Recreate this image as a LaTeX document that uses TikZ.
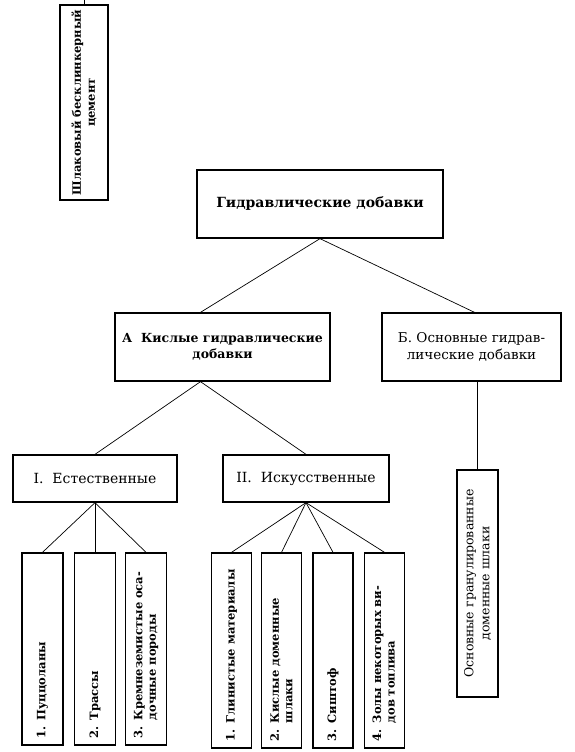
\documentclass[tikz,border=0pt]{standalone}
\usepackage{fontspec}
\setmainfont{DejaVu Serif}
\usepackage{tikz}
\usetikzlibrary{positioning}
\tikzset{blok/.style={draw, line width=1.3pt, inner sep=0pt, align=center}}
\tikzset{vblok/.style={blok, rotate=90, align=left, inner xsep=7pt}}
\tikzset{svyaz/.style={line width=0.7pt}}
\newcommand{\bigf}{\fontsize{14}{17}\selectfont}
\newcommand{\midf}{\fontsize{12.5}{16}\selectfont}
\newcommand{\smf}{\fontsize{11.5}{13.5}\selectfont}

\begin{document}
\begin{tikzpicture}[x=1pt, y=-1pt]
\useasboundingbox (0,0) rectangle (575,752);
\coordinate (verh) at (83,0);
\node[vblok, align=center, inner xsep=2pt, minimum width=195pt, minimum height=48pt, text width=191pt, font=\bfseries\fontsize{11.5}{14}\selectfont] (shl) at (84,102.5) {Шлаковый бесклинкерный\\цемент};
\draw[svyaz] (shl.east) -- (shl.east |- verh);
\node[blok, minimum width=246pt, minimum height=68pt, font=\bfseries\bigf] (gd) at (320,204) {Гидравлические добавки};
\node[blok, minimum width=215pt, minimum height=68pt, font=\bfseries\midf] (ka) at (222.5,347) {А~~Кислые гидравлические\\добавки};
\node[blok, minimum width=179pt, minimum height=68pt, font=\fontsize{13.5}{17}\selectfont] (ob) at (471.5,347) {Б. Основные гидрав-\\лические добавки};
\draw[svyaz] ([xshift=-22pt]ka.north) -- (gd.south) -- ([xshift=3pt]ob.north);
\node[vblok, align=center, minimum width=227pt, minimum height=41pt, text width=213pt, font=\midf] (osn) at (477.5,583.5) {Основные гранулированные\\доменные шлаки};
\draw[svyaz] (osn.east |- ob.south) -- (osn.east);
\node[blok, minimum width=164pt, minimum height=47pt, font=\bigf] (est) at (95,478.5) {I.~ Естественные};
\node[blok, minimum width=166pt, minimum height=47pt, font=\bigf] (isk) at (306,478.5) {II.~ Искусственные};
\draw[svyaz] (est.north) -- ([xshift=-22pt]ka.south) -- (isk.north);
\foreach \i/\x/\t in {1/42.5/{1. Пуццоланы}, 2/95/{2. Трассы}, 3/146/{3. Кремнеземистые оса-\\\hphantom{3. }дочные породы}} {
\node[vblok, minimum width=192pt, minimum height=41pt, text width=178pt, font=\bfseries\smf] (e\i) at (\x,649) {\t};
\draw[svyaz] (est.south) -- (e\i.east);
}
\foreach \i/\x/\t in {1/231.5/{1. Глинистые материалы}, 2/281.5/{2. Кислые доменные\\\hphantom{2. }шлаки}, 3/333/{3. Сиштоф}, 4/384.5/{4. Золы некоторых ви-\\\hphantom{4. }дов топлива}} {
\node[vblok, minimum width=195pt, minimum height=40pt, text width=181pt, font=\bfseries\smf] (i\i) at (\x,650.5) {\t};
\draw[svyaz] (isk.south) -- (i\i.east);
}
\end{tikzpicture}
\end{document}
